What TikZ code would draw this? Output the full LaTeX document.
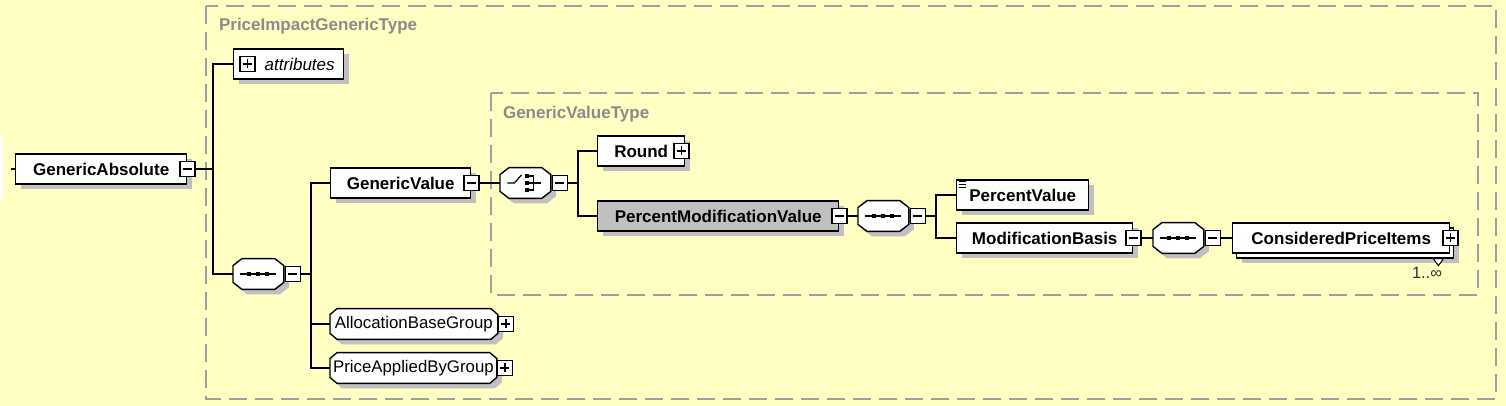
\documentclass[tikz,border=0pt]{standalone}
\usepackage{fontspec}
\setmainfont{Liberation Sans}
\usetikzlibrary{calc,shadows,backgrounds,positioning}
\definecolor{diagbg}{HTML}{FFFFC4}
\definecolor{shade}{HTML}{C0C0C0}
\definecolor{frame}{HTML}{A0A0A0}
\definecolor{typelabel}{HTML}{8C8C8C}
\tikzset{box/.style={draw,fill=white,line width=0.7pt,minimum height=15pt,inner sep=0pt,anchor=west,font=\fontsize{8.5}{10}\selectfont\bfseries},
shadowed/.style={drop shadow={shadow xshift=2.5pt,shadow yshift=-2.5pt,fill=shade,opacity=1}},
elem/.style={box,shadowed}}

\begin{document}
\begin{tikzpicture}[x=0.5pt,y=-0.5pt]

\tikzset{compositor/.style={anchor=west,minimum width=25pt,minimum height=15pt,inner sep=0pt},
grp/.style={anchor=west,minimum height=15pt,inner sep=0pt,font=\fontsize{8.4}{10}\selectfont},
shadowfill/.style={fill=shade,draw=none},
octfill/.style={fill=white,draw,line width=0.7pt},
pmbox/.style={draw,fill=white,line width=0.6pt,minimum size=7.5pt,inner sep=0pt},
minusbox/.style={pmbox,path picture={\draw[line width=0.6pt] ([xshift=1.5pt]path picture bounding box.west) -- ([xshift=-1.5pt]path picture bounding box.east);}},
plusbox/.style={pmbox,path picture={\draw[line width=0.6pt] ([xshift=1.5pt]path picture bounding box.west) -- ([xshift=-1.5pt]path picture bounding box.east);
  \draw[line width=0.6pt] ([yshift=-1.5pt]path picture bounding box.north) -- ([yshift=1.5pt]path picture bounding box.south);}},
typebox/.style={draw=frame,line width=1pt,dash pattern=on 9pt off 4pt},
typename/.style={anchor=west,text=typelabel,font=\fontsize{8.5}{10}\selectfont\bfseries}}

\useasboundingbox (0,0) rectangle (1506,406);

% Type frames
\draw[typebox] (206,6) rectangle (1496,399);
\node[typename] (outerlabel) at (212,26) {PriceImpactGenericType};
\draw[typebox] (491,93) rectangle (1478,295);
\node[typename] (innerlabel) at (496,114) {GenericValueType};

% Elements
\node[elem,minimum width=85.5pt] (ga) at (15,169) {GenericAbsolute};
\node[minusbox] (gam) at (ga.east) {};
\coordinate (gain) at (11,169);
\coordinate (bus1) at (213,169);

\node[elem,minimum width=55pt,font=\fontsize{8.5}{10}\selectfont\itshape] (attr) at (233,64) {\hspace*{11pt}attributes};
\node[plusbox] (attrp) at ([xshift=7.25pt]attr.west) {};

\node[compositor] (seq1) at (233,274) {};
\node[minusbox,anchor=west] (seq1m) at ([xshift=0.5pt]seq1.east) {};
\coordinate (bus2) at (311,274);

\node[elem,minimum width=70pt] (gv) at (330,183) {GenericValue};
\node[minusbox] (gvm) at (gv.east) {};
\node[grp,minimum width=83.5pt] (abg) at (330,324) {AllocationBaseGroup};
\node[plusbox,anchor=west] (abgp) at (abg.east) {};
\node[grp,minimum width=83pt] (pag) at (330,368) {PriceAppliedByGroup};
\node[plusbox,anchor=west] (pagp) at (pag.east) {};

\node[compositor] (ch) at (500,183) {};
\node[minusbox,anchor=west] (chm) at ([xshift=0.5pt]ch.east) {};
\coordinate (bus3) at (578,183);

\node[elem,minimum width=43.5pt] (rnd) at (597,151) {Round};
\node[plusbox] (rndp) at ([xshift=-2pt]rnd.east) {};
\node[elem,minimum width=120.5pt,fill=shade] (pmv) at (597,216) {PercentModificationValue};
\node[minusbox] (pmvm) at (pmv.east) {};

\node[compositor] (seq2) at (858,216) {};
\node[minusbox,anchor=west] (seq2m) at ([xshift=0.5pt]seq2.east) {};
\coordinate (bus4) at (936,216);

\node[elem,minimum width=66pt] (pv) at (956,195) {PercentValue};
\node[elem,minimum width=88pt] (mb) at (956,238) {ModificationBasis};
\node[minusbox] (mbm) at (mb.east) {};

\node[compositor] (seq3) at (1153,238) {};
\node[minusbox,anchor=west] (seq3m) at ([xshift=0.5pt]seq3.east) {};

\node[elem,minimum width=108.5pt] (cpib) at (1236,243) {};
\node[box,minimum width=108.5pt] (cpi) at (1232,238) {ConsideredPriceItems};
\node[plusbox] (cpip) at (cpi.east) {};
\draw[fill=white,line width=0.5pt] ($(cpib.south east)+(-21,0)$) -- ++(10,0) -- ++(-5,7) -- cycle;
\node[font=\fontsize{8.2}{10}\selectfont,text=black!80] (mult) at (1427,273) {1..∞};

% Compositor symbols
\foreach \s in {seq1,seq2,seq3} {
  \draw[line width=0.6pt] ($(\s.center)+(-18,0)$) -- ($(\s.center)+(18,0)$);
  \foreach \d in {-9,0,9} \fill ($(\s.center)+(\d,0)$) +(-2,-2) rectangle +(2,2);
}
\begin{scope}[shift={(ch.center)},line width=0.6pt]
  \draw (-18,0) -- (-11,0) -- (-4,-8);
  \foreach \d in {-7,0,7} \fill (2,\d) +(-2,-2) rectangle +(2,2);
  \draw (4,-7) -- (8,-7) -- (8,7) -- (4,7);
  \draw (4,0) -- (16,0);
\end{scope}

% Text content mark
\foreach \d in {2,5,8} \draw[line width=0.5pt] ($(pv.north west)+(3,\d)$) -- ++(7,0);

% Connectors
\draw[line width=0.7pt] (gain) -- (ga.west);
\draw[line width=0.7pt] (gam.east) -- (bus1);
\draw[line width=0.7pt] (attr.west) -| (bus1);
\draw[line width=0.7pt] (seq1.west) -| (bus1);
\draw[line width=0.7pt] (seq1m.east) -- (bus2);
\draw[line width=0.7pt] (gv.west) -| (bus2);
\draw[line width=0.7pt] (abg.west) -| (bus2);
\draw[line width=0.7pt] (pag.west) -| (bus2);
\draw[line width=0.7pt] (gvm.east) -- (ch.west);
\draw[line width=0.7pt] (chm.east) -- (bus3);
\draw[line width=0.7pt] (rnd.west) -| (bus3);
\draw[line width=0.7pt] (pmv.west) -| (bus3);
\draw[line width=0.7pt] (pmvm.east) -- (seq2.west);
\draw[line width=0.7pt] (seq2m.east) -- (bus4);
\draw[line width=0.7pt] (pv.west) -| (bus4);
\draw[line width=0.7pt] (mb.west) -| (bus4);
\draw[line width=0.7pt] (mbm.east) -- (seq3.west);
\draw[line width=0.7pt] (seq3m.east) -- (cpi.west);

% Background, compositor and group outlines
\begin{scope}[on background layer]
\fill[diagbg] (0,0) rectangle (1506,406);
\fill[white] (0,135) rectangle (3,200);
\foreach \n/\c/\d in {seq1/9/7,seq2/9/7,seq3/9/7,ch/9/7,abg/7/6,pag/7/6}
  \foreach \o/\sty in {5/shadowfill,0/octfill}
    \path[\sty] ($(\n.north west)+(\c+\o,\o)$) -- ($(\n.north east)+(-\c+\o,\o)$) -- ($(\n.north east)+(\o,\d+\o)$)
      -- ($(\n.south east)+(\o,-\d+\o)$) -- ($(\n.south east)+(-\c+\o,\o)$) -- ($(\n.south west)+(\c+\o,\o)$)
      -- ($(\n.south west)+(\o,-\d+\o)$) -- ($(\n.north west)+(\o,\d+\o)$) -- cycle;
\end{scope}

\end{tikzpicture}
\end{document}
